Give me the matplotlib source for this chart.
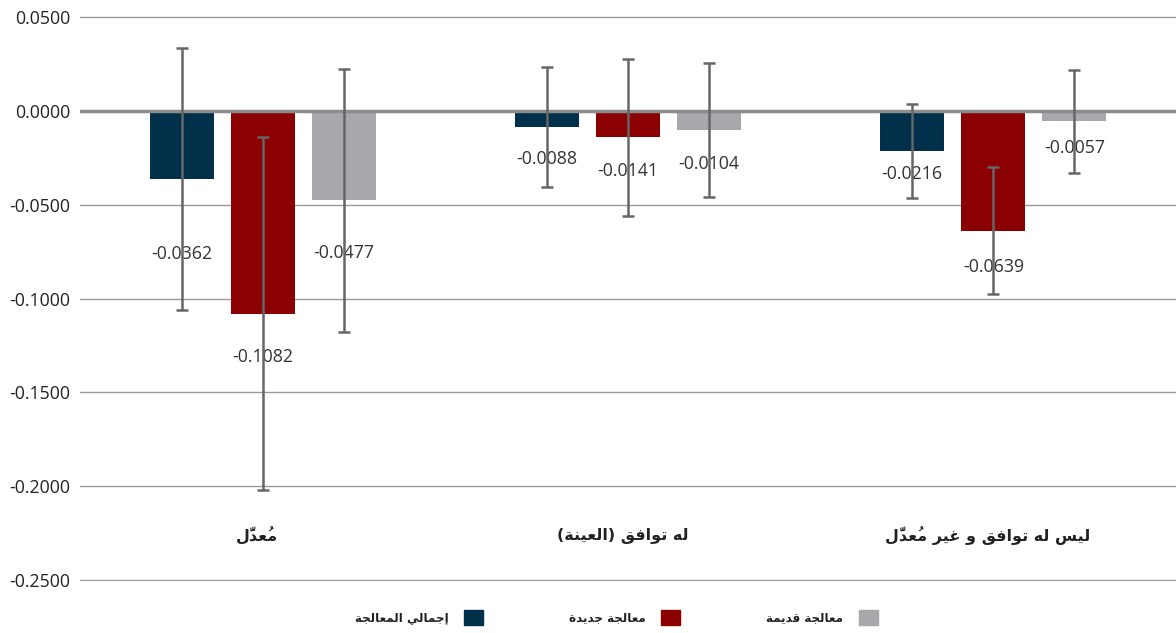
import matplotlib
matplotlib.use('Agg')
import matplotlib.pyplot as plt
from matplotlib.patches import Patch
import numpy as np

plt.rcParams['font.family'] = ['Open Sans', 'DejaVu Sans']

# Arabic text is written in visual order with presentation forms (no shaping in matplotlib)
# مُعدّل | له توافق (العينة) | ليس له توافق و غير مُعدّل
mudal = '\uFEDD\u0651\u064E\uFEAA\uFECC\u064F\uFEE3'
categories = [
    mudal,
    '(\uFE94\uFEE8\uFEF4\uFECC\uFEDF\uFE8D) \uFED6\uFED3\uFE8D\uFEEE\uFE97 \uFEEA\uFEDF',
    mudal + ' \uFEAE\uFEF4\uFECF \uFEED \uFED6\uFED3\uFE8D\uFEEE\uFE97 \uFEEA\uFEDF \uFEB2\uFEF4\uFEDF',
]
# إجمالي المعالجة | معالجة جديدة | معالجة قديمة
series_names = [
    '\uFE94\uFEA0\uFEDF\uFE8E\uFECC\uFEE4\uFEDF\uFE8D \uFEF2\uFEDF\uFE8E\uFEE4\uFE9F\uFE87',
    '\uFE93\uFEAA\uFEF3\uFEAA\uFE9F \uFE94\uFEA0\uFEDF\uFE8E\uFECC\uFEE3',
    '\uFE94\uFEE4\uFEF3\uFEAA\uFED7 \uFE94\uFEA0\uFEDF\uFE8E\uFECC\uFEE3',
]

total = [-0.0362, -0.0088, -0.0216]
new = [-0.1082, -0.0141, -0.0639]
old = [-0.0477, -0.0104, -0.0057]

total_err = [0.0699, 0.0319, 0.0250]
new_err = [0.0940, 0.0418, 0.0338]
old_err = [0.0700, 0.0357, 0.0276]

yticks = [0.05, 0.0, -0.05, -0.1, -0.15, -0.2, -0.25]

colors = ['#00304a', '#8b0000', '#a7a8ab']
# vertical offset of value labels under each bar, in points
label_off = [[-54, -31, -38], [-23, -24, -24], [-16, -26, -19]]

fig = plt.figure(figsize=(11.76, 6.33), dpi=100)
ax = fig.add_axes([0.068, 1 - 581 / 633, 0.932, 565 / 633])

x = np.arange(len(categories))
w = 0.175
step = 0.222
series = [total, new, old]
errs = [total_err, new_err, old_err]

for i, (vals, err) in enumerate(zip(series, errs)):
    xs = x + (i - 1) * step
    ax.bar(xs, vals, width=w, color=colors[i], zorder=2, label=series_names[i])
    for j, v in enumerate(vals):
        ax.annotate('%.4f' % v, (xs[j], v), xytext=(0, label_off[j][i]),
                    textcoords='offset points', ha='center', va='center',
                    fontsize=12.8, color='#333333', zorder=3)
    ax.errorbar(xs, vals, yerr=err, fmt='none', ecolor='#666666',
                elinewidth=1.8, capsize=4.3, capthick=1.8, zorder=4)

ax.axhline(0, color='#8c8c8c', lw=2.5, zorder=3.5)
ax.set_ylim(-0.2505, 0.0505)
ax.set_xlim(-0.5, 2.5)
ax.set_yticks(yticks)
ax.set_yticklabels(['%.4f' % t for t in yticks], fontsize=12.8, color='#222222')
ax.yaxis.grid(True, color='#9a9a9a', lw=1, zorder=0)
ax.set_axisbelow(True)
ax.tick_params(axis='y', length=0, pad=7)
ax.set_xticks([])
for s in ax.spines.values():
    s.set_visible(False)

for j, c in enumerate(categories):
    ax.text(x[j] - 0.015, -0.2265, c, ha='center', va='center', fontsize=11.5,
            fontweight='bold', color='#222222', family='DejaVu Sans')

handles = [Patch(color=colors[i]) for i in range(3)]
leg = fig.legend(handles, series_names, loc='center', bbox_to_anchor=(0.524, 0.025),
                 ncol=3, frameon=False, markerfirst=False, handlelength=1.6,
                 handleheight=1.6, columnspacing=7.2, handletextpad=1.3,
                 prop={'family': 'DejaVu Sans', 'weight': 'bold', 'size': 8.6})
for t in leg.get_texts():
    t.set_color('#222222')

fig.savefig('out.png', dpi=100)
